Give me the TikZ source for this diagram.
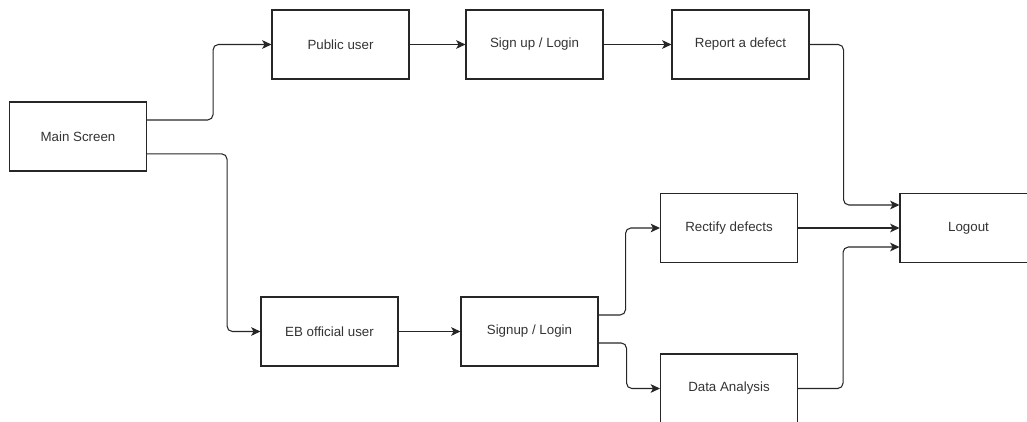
\documentclass[tikz,border=0pt]{standalone}
\usepackage{fontspec}
\setmainfont{Liberation Sans}
\usetikzlibrary{arrows.meta,calc}
\begin{document}
\begin{tikzpicture}[x=0.75pt,y=-0.75pt,
  box/.style={draw=black!85, line width=0.8pt, minimum width=102.75pt, minimum height=51.75pt, inner sep=0pt, text=black!80, font=\fontsize{10}{12}\selectfont},
  conn/.style={draw=black!85, line width=0.8pt, rounded corners=4pt, -{Stealth[length=7pt,width=6.5pt,inset=1.8pt]}}
]
\useasboundingbox (0,0) rectangle (1027,421);
\node[box] (main) at (78,136.5) {Main Screen};
\node[box] (pub) at (340.5,44.5) {Public user};
\node[box] (signa) at (534.5,44.5) {Sign up / Login};
\node[box] (rep) at (740.5,44.5) {Report a defect};
\node[box] (eb) at (329.5,331.5) {EB official user};
\node[box] (signb) at (529.5,331.5) {Signup / Login};
\node[box] (rect) at (729,228) {Rectify defects};
\node[box] (da) at (729,388.5) {Data Analysis};
\node[box] (logout) at (968.5,228) {Logout};

\draw[conn] ([yshift=12.4pt]main.east) -- ++(66,0) |- (pub.west);
\draw[conn] ([yshift=-13pt]main.east) -- ++(80,0) |- (eb.west);
\draw[conn] (pub) -- (signa);
\draw[conn] (signa) -- (rep);
\draw[conn] (rep.east) -- ++(34,0) |- ([yshift=17.25pt]logout.west);
\draw[conn] (eb) -- (signb);
\draw[conn] ([yshift=12.4pt]signb.east) -- ++(27,0) |- (rect.west);
\draw[conn] ([yshift=-8.6pt]signb.east) -- ++(28,0) |- (da.west);
\draw[conn] (rect.east) -- (rect.east -| logout.west);
\draw[conn] (da.east) -- ++(45,0) |- ([yshift=-14.25pt]logout.west);
\end{tikzpicture}
\end{document}
